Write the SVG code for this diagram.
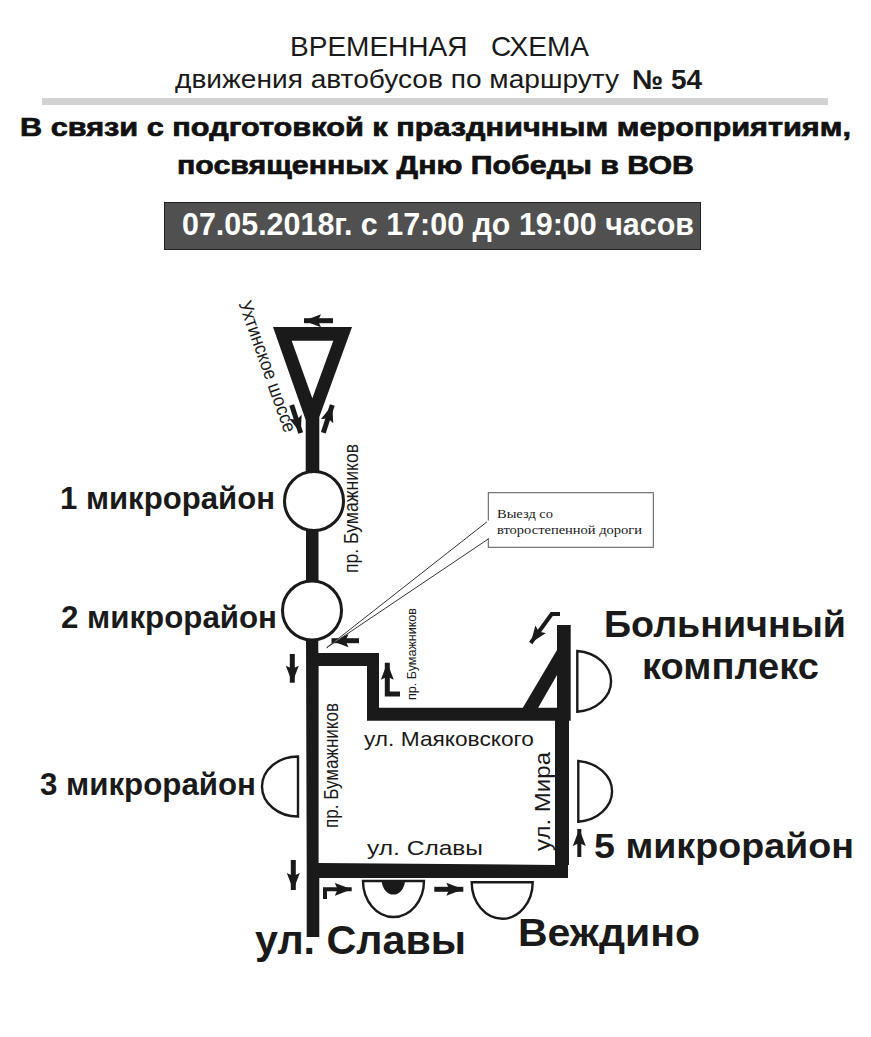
<svg xmlns="http://www.w3.org/2000/svg" width="871" height="1037" viewBox="0 0 871 1037">
<style>
text{font-family:"Liberation Sans",Arial,sans-serif;fill:#1a1a1a}
.b{font-weight:700}
.h{font-weight:700;font-size:26px;fill:#111;stroke:#111;stroke-width:.7px}
.road{fill:#1a1a1a;stroke:none}
.ring{fill:#fff;stroke:#1a1a1a;stroke-width:3}
.half{fill:#fff;stroke:#1a1a1a;stroke-width:2.4}
.ar{fill:none;stroke:#1a1a1a;stroke-width:5;marker-end:url(#ah)}
.s{font-size:20px}
.m{font-size:31px;font-weight:700}
.t{font-family:"Liberation Serif",serif;font-size:12.5px}
</style>
<defs>
<marker id="ah" markerUnits="userSpaceOnUse" markerWidth="19" markerHeight="14" refX="17" refY="7" orient="auto"><path d="M0 0.5L17 7L0 13.5L3 7Z" fill="#1a1a1a"/></marker>
</defs>
<rect width="871" height="1037" fill="#fff"/>
<g id="header">
<text x="290" y="55.5" font-size="27.5" textLength="299" lengthAdjust="spacingAndGlyphs" xml:space="preserve">ВРЕМЕННАЯ   СХЕМА</text>
<text x="175" y="88" font-size="26" textLength="444" lengthAdjust="spacingAndGlyphs">движения автобусов по маршруту</text>
<text x="632" y="89" font-size="27" class="b" textLength="70" lengthAdjust="spacingAndGlyphs">№ 54</text>
<rect x="42" y="98" width="786" height="7" fill="#d2d2d2"/>
<text x="20" y="135.5" class="h" textLength="831" lengthAdjust="spacingAndGlyphs">В связи с подготовкой к праздничным мероприятиям,</text>
<text x="177" y="173.5" class="h" textLength="517" lengthAdjust="spacingAndGlyphs">посвященных Дню Победы в ВОВ</text>
<rect x="164.5" y="202.5" width="536" height="47" fill="#505050" stroke="#222" stroke-width="1"/>
<text x="182" y="235" font-size="31" class="b" style="fill:#fff" textLength="512" lengthAdjust="spacingAndGlyphs">07.05.2018г. с 17:00 до 19:00 часов</text>
</g>
<g id="connectors">
<path class="road" fill-rule="evenodd" d="M273 327H352L319.3 417V472H305.7V420ZM291.7 340.7L312.3 398.3L333.3 340.7Z"/>
<rect class="road" x="306" y="528" width="12.5" height="56"/>
<path class="road" d="M306 638H318.3V653H379V707.7H557V625H570.7V720.7H569V865H568V878H319.3V937H306.7V866ZM318.6 666V863L555 865V720.7H367V666Z" fill-rule="evenodd"/>
<path class="road" d="M557 650V675L538 708H522.7Z"/>
<path class="ar" d="M333 320.7H304"/>
<path class="ar" d="M291.7 405L300.7 433"/>
<path class="ar" d="M323.3 432.7L332.3 405"/>
<path class="ar" d="M359 640.7H331.5"/>
<path class="ar" d="M292.3 654V682.7"/>
<path class="ar" d="M400 694H387.3V662.7"/>
<path class="ar" d="M560 614H551.7L530.7 643" style="stroke-width:4"/>
<path class="ar" d="M579.3 857V829" style="stroke-width:4"/>
<path class="ar" d="M293.3 860V890"/>
<path class="ar" d="M325 899V889.3H351.7" style="stroke-width:4"/>
<path class="ar" d="M434.3 889.3H463.3"/>
</g>
<g id="node-mr1"><circle class="ring" cx="314" cy="501" r="29.5"/><text x="60" y="509" class="m" textLength="215" lengthAdjust="spacingAndGlyphs">1 микрорайон</text></g>
<g id="node-mr2"><circle class="ring" cx="312" cy="610.5" r="29.5"/><text x="61" y="628" class="m" textLength="216" lengthAdjust="spacingAndGlyphs">2 микрорайон</text></g>
<g id="node-mr3"><path class="half" d="M298 756.5V816.5A36 30 0 0 1 298 756.5Z"/><text x="40" y="795" class="m" textLength="216" lengthAdjust="spacingAndGlyphs">3 микрорайон</text></g>
<g id="node-hospital"><path class="half" d="M577.3 651V711.7A37.5 30.5 0 0 0 577.3 651Z"/>
<text x="604" y="637" font-size="37" class="b" textLength="242" lengthAdjust="spacingAndGlyphs">Больничный</text>
<text x="642" y="679" font-size="37" class="b" textLength="177" lengthAdjust="spacingAndGlyphs">комплекс</text></g>
<g id="node-mr5"><path class="half" d="M578.3 761V821.7A37.5 30.5 0 0 0 578.3 761Z"/><text x="594" y="858" font-size="35" class="b" textLength="260" lengthAdjust="spacingAndGlyphs">5 микрорайон</text></g>
<g id="node-slavy"><path class="half" d="M363 881H424A30.5 36 0 0 1 363 881Z"/><path d="M381.7 881H405A11.7 15 0 0 1 381.7 881Z" fill="#1a1a1a"/></g>
<g id="node-vezhdino"><path class="half" d="M471.7 882.3H532.7A30.5 36.5 0 0 1 471.7 882.3Z"/><text x="518" y="946" font-size="39" class="b" textLength="182" lengthAdjust="spacingAndGlyphs">Веждино</text></g>
<g id="callout">
<path d="M489.3 520L326.7 647.7L489.3 538.3" fill="#fff" stroke="#333" stroke-width="1"/>
<rect x="488.3" y="492.7" width="165" height="54.6" fill="#fff" stroke="#555" stroke-width="1"/>
<rect x="487" y="520.5" width="3" height="17.5" fill="#fff"/>
<text x="497" y="518" class="t" textLength="56" lengthAdjust="spacingAndGlyphs">Выезд со</text>
<text x="497" y="534" class="t" textLength="145" lengthAdjust="spacingAndGlyphs">второстепенной дороги</text>
</g>
<g id="labels">
<text transform="translate(238.5 303.5) rotate(70.5)" font-size="19" textLength="138" lengthAdjust="spacingAndGlyphs">Ухтинское шоссе</text>
<text transform="translate(358 573) rotate(-90)" class="s" textLength="129" lengthAdjust="spacingAndGlyphs">пр. Бумажников</text>
<text transform="translate(416 700) rotate(-90)" font-size="13.5" textLength="92" lengthAdjust="spacingAndGlyphs">пр. Бумажников</text>
<text transform="translate(337.5 828) rotate(-90)" class="s" textLength="125" lengthAdjust="spacingAndGlyphs">пр. Бумажников</text>
<text x="364" y="746" font-size="21" textLength="170" lengthAdjust="spacingAndGlyphs">ул. Маяковского</text>
<text transform="translate(550 851) rotate(-90)" font-size="22" textLength="99" lengthAdjust="spacingAndGlyphs">ул. Мира</text>
<text x="367" y="855" font-size="21" textLength="116" lengthAdjust="spacingAndGlyphs">ул. Славы</text>
<text x="255" y="954" font-size="40" class="b" textLength="211" lengthAdjust="spacingAndGlyphs">ул. Славы</text>
</g>
</svg>
